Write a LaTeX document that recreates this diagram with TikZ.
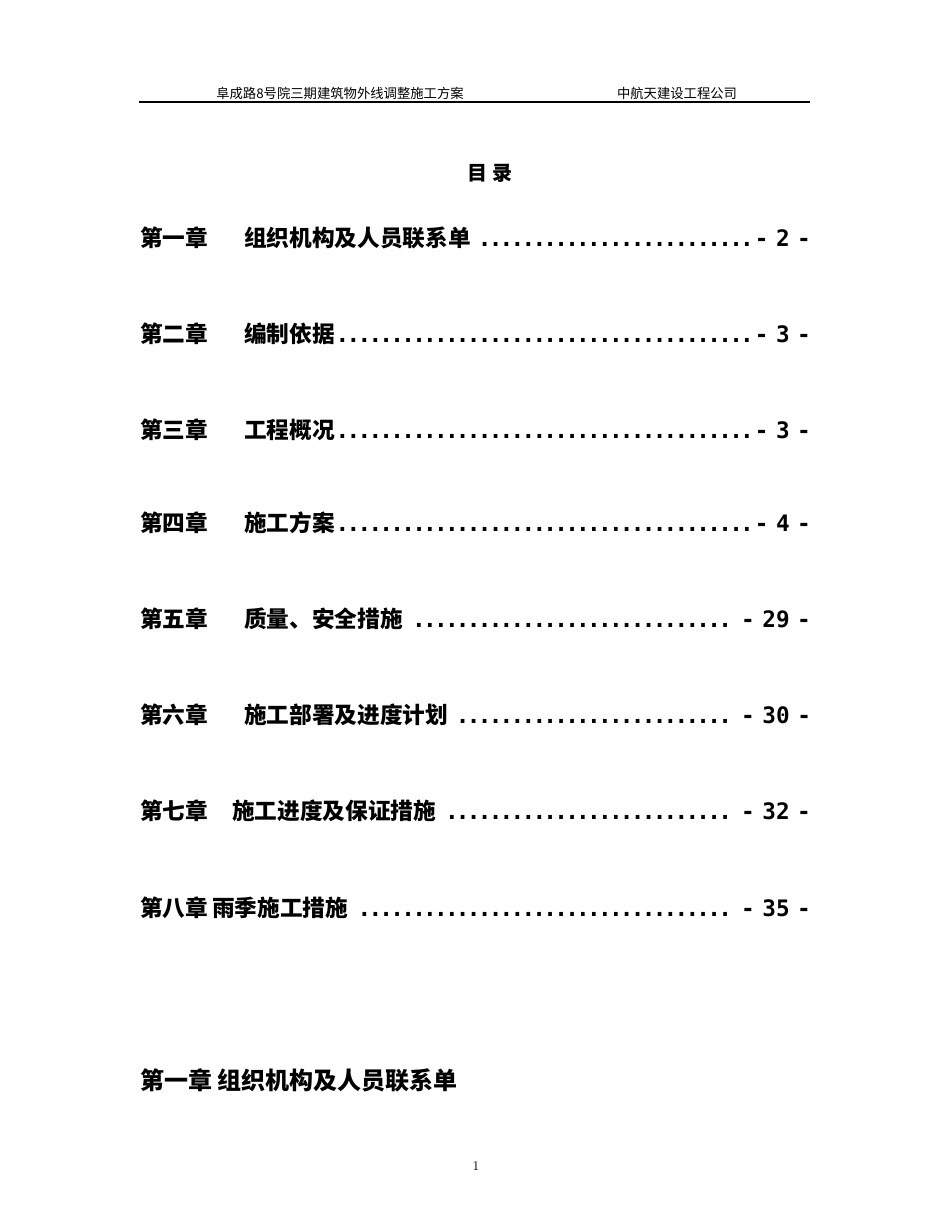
\documentclass[tikz,border=0pt]{standalone}
\usepackage{fontspec}
\newfontfamily\cjk{Noto Sans CJK SC}
\newfontfamily\mono{DejaVu Sans Mono}
\newcommand{\dotsfill}{\leaders\hbox to 8.2pt{\hss.\hss}\hfill}
\tikzset{
  hdr/.style={font=\cjk\fontsize{10}{12}\selectfont, inner sep=0pt},
  tocline/.style={anchor=west, inner sep=0pt, text width=503pt, align=left, font=\cjk\bfseries\fontsize{17}{20}\selectfont}
}
\begin{document}
\begin{tikzpicture}[x=0.75pt,y=-0.75pt]
\useasboundingbox (0,0) rectangle (950,1230);
\node[hdr] (h1) at (340,93) {阜成路8号院三期建筑物外线调整施工方案};
\node[hdr] (h2) at (677,93) {中航天建设工程公司};
\draw[line width=0.8pt] (139,102) -- (810,102);
\node[inner sep=0pt, font=\cjk\bfseries\fontsize{15}{18}\selectfont] (t) at (490,173) {目\ 录};
\node[tocline] (c1) at (140,238) {第一章\hspace{27pt}组织机构及人员联系单{\mono\bfseries\dotsfill- 2 -}};
\node[tocline] (c2) at (140,334) {第二章\hspace{27pt}编制依据{\mono\bfseries\dotsfill- 3 -}};
\node[tocline] (c3) at (140,430) {第三章\hspace{27pt}工程概况{\mono\bfseries\dotsfill- 3 -}};
\node[tocline] (c4) at (140,523) {第四章\hspace{27pt}施工方案{\mono\bfseries\dotsfill- 4 -}};
\node[tocline] (c5) at (140,619) {第五章\hspace{27pt}质量、安全措施{\mono\bfseries\dotsfill- 29 -}};
\node[tocline] (c6) at (140,715) {第六章\hspace{27pt}施工部署及进度计划{\mono\bfseries\dotsfill- 30 -}};
\node[tocline] (c7) at (140,811) {第七章\hspace{18pt}施工进度及保证措施{\mono\bfseries\dotsfill- 32 -}};
\node[tocline] (c8) at (140,908) {第八章\hspace{3pt}雨季施工措施{\mono\bfseries\dotsfill- 35 -}};
\node[anchor=west, inner sep=0pt, font=\cjk\bfseries\fontsize{18}{21}\selectfont] (sec) at (140,1080) {第一章 组织机构及人员联系单};
\node[inner sep=0pt, font=\fontsize{10}{12}\selectfont] (pg) at (476,1166) {1};
\end{tikzpicture}
\end{document}
